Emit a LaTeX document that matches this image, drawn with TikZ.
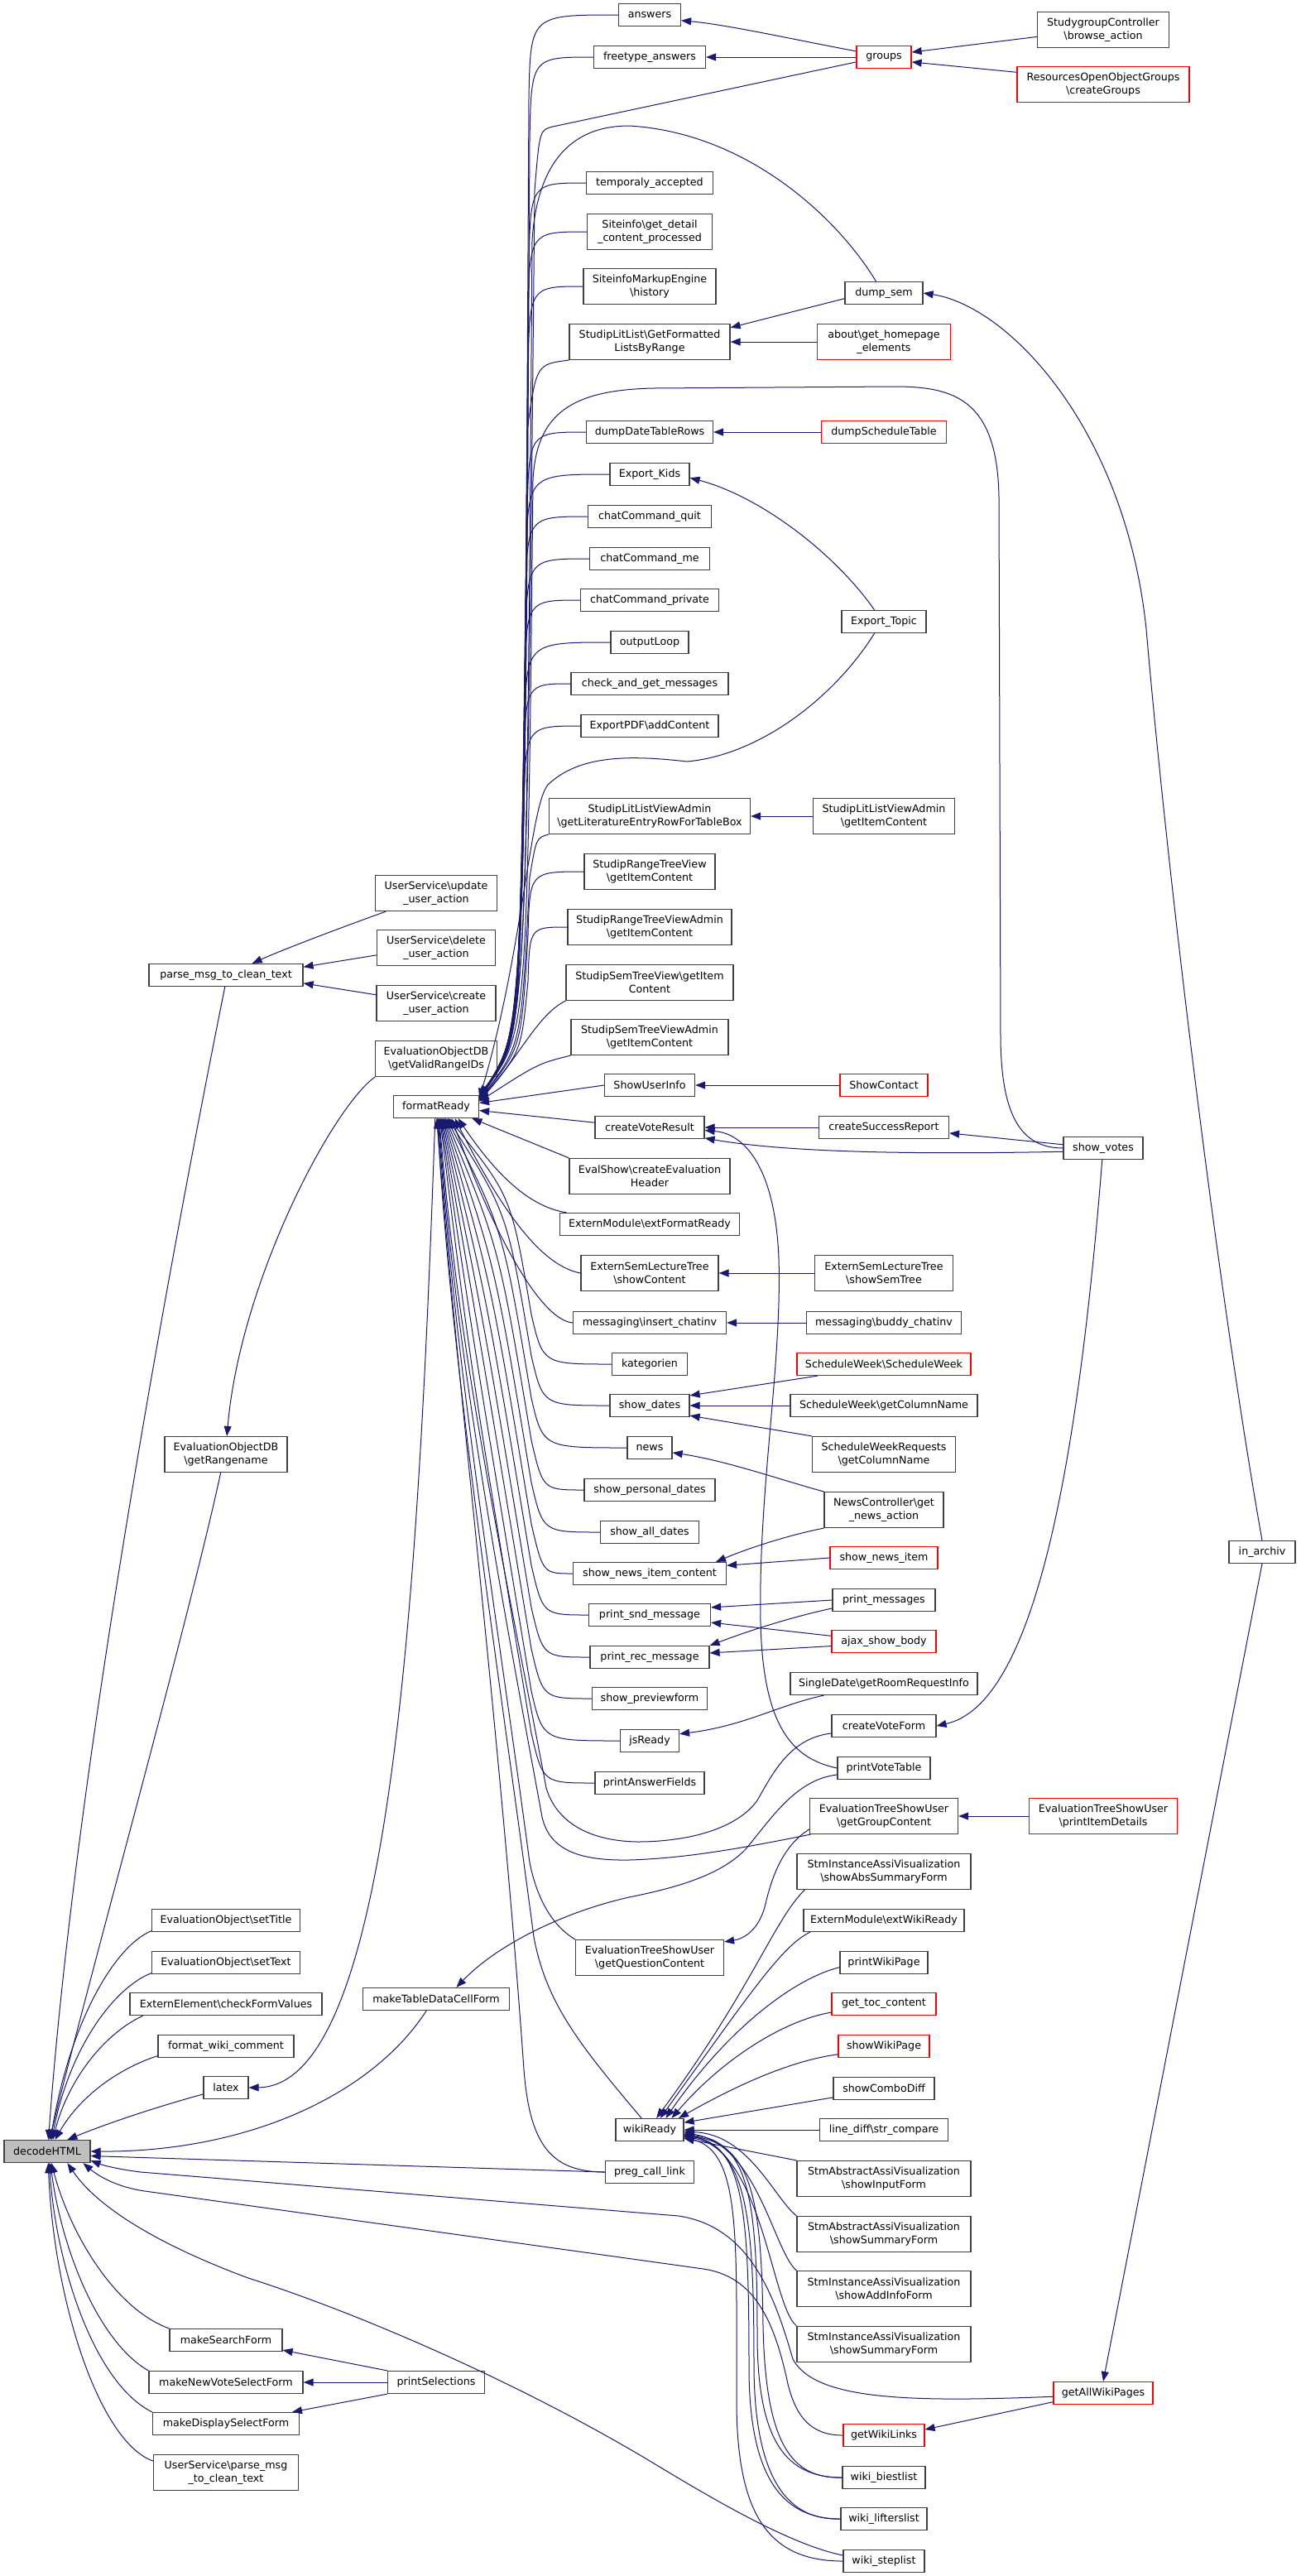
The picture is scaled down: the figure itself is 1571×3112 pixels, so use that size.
\documentclass[tikz,border=0pt]{standalone}
\usepackage{fontspec}
\setmainfont{DejaVu Sans}
\usetikzlibrary{arrows.meta}
\definecolor{mb}{RGB}{25,25,112}
\newcommand\BSL{\textbackslash}
\tikzset{
  nb/.style={draw=black!75, line width=0.9pt, fill=white, inner xsep=2pt, inner ysep=0pt, align=center, minimum height=20.25pt, font=\fontsize{9.5pt}{11.9pt}\selectfont},
  tl/.style={minimum height=32.25pt},
  bw/.style={minimum width=#1*0.75pt},
  rb/.style={draw=red},
  ed/.style={draw=mb, line width=0.75pt, -{Triangle[length=9pt,width=6.75pt]}},
}
\begin{document}
\begin{tikzpicture}[x=0.75pt,y=-0.75pt]
\fill[white] (0,0) rectangle (1571,3112);
\useasboundingbox (0,0) rectangle (1571,3112);
% ---- column A
\node[nb,bw=104,fill=black!25] (dh) at (57,2599) {decodeHTML};
% ---- column B
\node[nb,bw=186] (pm) at (273,1178) {parse\_msg\_to\_clean\_text};
\node[nb,tl,bw=148] (grn) at (273,1757) {EvaluationObjectDB\\\BSL getRangename};
\node[nb,bw=179] (sti) at (273,2320) {EvaluationObject\BSL setTitle};
\node[nb,bw=179] (stx) at (273,2371) {EvaluationObject\BSL setText};
\node[nb,bw=232] (cfv) at (273,2421) {ExternElement\BSL checkFormValues};
\node[nb,bw=164] (fwc) at (273,2472) {format\_wiki\_comment};
\node[nb,bw=54] (ltx) at (273,2522) {latex};
\node[nb,bw=136] (msf) at (273,2827) {makeSearchForm};
\node[nb,bw=186] (mnv) at (273,2878) {makeNewVoteSelectForm};
\node[nb,bw=177] (mds) at (273,2928) {makeDisplaySelectForm};
\node[nb,tl,bw=175] (usp) at (273,2987) {UserService\BSL parse\_msg\\\_to\_clean\_text};
% ---- column C
\node[nb,tl,bw=147] (uup) at (527,1079) {UserService\BSL update\\\_user\_action};
\node[nb,tl,bw=143] (udl) at (527,1145) {UserService\BSL delete\\\_user\_action};
\node[nb,tl,bw=144] (ucr) at (527,1212) {UserService\BSL create\\\_user\_action};
\node[nb,tl,bw=147] (gvr) at (527,1279) {EvaluationObjectDB\\\BSL getValidRangeIDs};
\node[nb,bw=103] (fr) at (527,1337) {formatReady};
\node[nb,bw=177] (mtd) at (527,2415) {makeTableDataCellForm};
\node[nb,bw=117] (ps) at (527,2878) {printSelections};
% ---- column D
\node[nb,bw=75] (ans) at (785,18) {answers};
\node[nb,bw=135] (fta) at (785,69) {freetype\_answers};
\node[nb,bw=153] (tac) at (785,221) {temporaly\_accepted};
\node[nb,tl,bw=151] (sgd) at (785,280) {Siteinfo\BSL get\_detail\\\_content\_processed};
\node[nb,tl,bw=160] (smh) at (785,346) {SiteinfoMarkupEngine\\\BSL history};
\node[nb,tl,bw=194] (slg) at (785,413) {StudipLitList\BSL GetFormatted\\ListsByRange};
\node[nb,bw=153] (ddt) at (785,522) {dumpDateTableRows};
\node[nb,bw=96] (ek) at (785,573) {Export\_Kids};
\node[nb,bw=149] (ccq) at (785,624) {chatCommand\_quit};
\node[nb,bw=145] (ccm) at (785,675) {chatCommand\_me};
\node[nb,bw=167] (ccp) at (785,725) {chatCommand\_private};
\node[nb,bw=94] (ol) at (785,776) {outputLoop};
\node[nb,bw=190] (cgm) at (785,826) {check\_and\_get\_messages};
\node[nb,bw=166] (epa) at (785,877) {ExportPDF\BSL addContent};
\node[nb,tl,bw=243] (sla) at (785,986) {StudipLitListViewAdmin\\\BSL getLiteratureEntryRowForTableBox};
\node[nb,tl,bw=158] (srt) at (785,1053) {StudipRangeTreeView\\\BSL getItemContent};
\node[nb,tl,bw=198] (sra) at (785,1120) {StudipRangeTreeViewAdmin\\\BSL getItemContent};
\node[nb,tl,bw=202] (sst) at (785,1187) {StudipSemTreeView\BSL getItem\\Content};
\node[nb,tl,bw=190] (ssa) at (785,1253) {StudipSemTreeViewAdmin\\\BSL getItemContent};
\node[nb,bw=109] (sui) at (785,1311) {ShowUserInfo};
\node[nb,bw=132] (cvr) at (785,1362) {createVoteResult};
\node[nb,tl,bw=194] (ecs) at (785,1421) {EvalShow\BSL createEvaluation\\Header};
\node[nb,bw=217] (emf) at (785,1479) {ExternModule\BSL extFormatReady};
\node[nb,tl,bw=166] (esc) at (785,1538) {ExternSemLectureTree\\\BSL showContent};
\node[nb,bw=185] (mic) at (785,1598) {messaging\BSL insert\_chatinv};
\node[nb,bw=91] (kat) at (785,1648) {kategorien};
\node[nb,bw=96] (sd) at (785,1698) {show\_dates};
\node[nb,bw=54] (nws) at (785,1749) {news};
\node[nb,bw=158] (spd) at (785,1800) {show\_personal\_dates};
\node[nb,bw=119] (sad) at (785,1851) {show\_all\_dates};
\node[nb,bw=185] (snc) at (785,1901) {show\_news\_item\_content};
\node[nb,bw=147] (psm) at (785,1951) {print\_snd\_message};
\node[nb,bw=144] (prm) at (785,2002) {print\_rec\_message};
\node[nb,bw=139] (spf) at (785,2052) {show\_previewform};
\node[nb,bw=71] (jsr) at (785,2103) {jsReady};
\node[nb,bw=132] (paf) at (785,2154) {printAnswerFields};
\node[nb,tl,bw=179] (gqc) at (785,2365) {EvaluationTreeShowUser\\\BSL getQuestionContent};
\node[nb,bw=82] (wr) at (785,2573) {wikiReady};
\node[nb,bw=107] (pcl) at (785,2624) {preg\_call\_link};
% ---- column E
\node[nb,rb,bw=66] (grp) at (1068,69) {groups};
\node[nb,bw=94] (dsm) at (1068,354) {dump\_sem};
\node[nb,rb,tl,bw=161] (ahe) at (1068,413) {about\BSL get\_homepage\\\_elements};
\node[nb,rb,bw=151] (dst) at (1068,522) {dumpScheduleTable};
\node[nb,bw=102] (et) at (1068,751) {Export\_Topic};
\node[nb,tl,bw=171] (sli) at (1068,986) {StudipLitListViewAdmin\\\BSL getItemContent};
\node[nb,rb,bw=106] (sc) at (1068,1311) {ShowContact};
\node[nb,bw=157] (csr) at (1068,1362) {createSuccessReport};
\node[nb,tl,bw=167] (est) at (1068,1538) {ExternSemLectureTree\\\BSL showSemTree};
\node[nb,bw=187] (mbc) at (1068,1598) {messaging\BSL buddy\_chatinv};
\node[nb,rb,bw=210] (sws) at (1068,1648) {ScheduleWeek\BSL ScheduleWeek};
\node[nb,bw=226] (swc) at (1068,1698) {ScheduleWeek\BSL getColumnName};
\node[nb,tl,bw=173] (swr) at (1068,1757) {ScheduleWeekRequests\\\BSL getColumnName};
\node[nb,tl,bw=144] (ncg) at (1068,1824) {NewsController\BSL get\\\_news\_action};
\node[nb,rb,bw=130] (sni) at (1068,1882) {show\_news\_item};
\node[nb,bw=124] (pms) at (1068,1933) {print\_messages};
\node[nb,rb,bw=126] (asb) at (1068,1983) {ajax\_show\_body};
\node[nb,bw=226] (sdr) at (1068,2034) {SingleDate\BSL getRoomRequestInfo};
\node[nb,bw=126] (cvf) at (1068,2085) {createVoteForm};
\node[nb,bw=112] (pvt) at (1068,2136) {printVoteTable};
\node[nb,tl,bw=179] (ggc) at (1068,2194) {EvaluationTreeShowUser\\\BSL getGroupContent};
\node[nb,tl,bw=210] (sas) at (1068,2261) {StmInstanceAssiVisualization\\\BSL showAbsSummaryForm};
\node[nb,bw=194] (ewr) at (1068,2320) {ExternModule\BSL extWikiReady};
\node[nb,bw=106] (pwp) at (1068,2371) {printWikiPage};
\node[nb,rb,bw=126] (gtc) at (1068,2421) {get\_toc\_content};
\node[nb,rb,bw=110] (swp) at (1068,2472) {showWikiPage};
\node[nb,bw=122] (scd) at (1068,2523) {showComboDiff};
\node[nb,bw=155] (lds) at (1068,2573) {line\_diff\BSL str\_compare};
\node[nb,tl,bw=210] (sif) at (1068,2632) {StmAbstractAssiVisualization\\\BSL showInputForm};
\node[nb,tl,bw=210] (ssf) at (1068,2699) {StmAbstractAssiVisualization\\\BSL showSummaryForm};
\node[nb,tl,bw=210] (sai) at (1068,2765) {StmInstanceAssiVisualization\\\BSL showAddInfoForm};
\node[nb,tl,bw=210] (sis) at (1068,2832) {StmInstanceAssiVisualization\\\BSL showSummaryForm};
\node[nb,rb,bw=98] (gwl) at (1068,2942) {getWikiLinks};
\node[nb,bw=100] (wbl) at (1068,2993) {wiki\_biestlist};
\node[nb,bw=104] (wll) at (1068,3043) {wiki\_lifterslist};
\node[nb,bw=98] (wsl) at (1068,3094) {wiki\_steplist};
% ---- column F
\node[nb,tl,bw=159] (sgc) at (1333,36) {StudygroupController\\\BSL browse\_action};
\node[nb,rb,tl,bw=208] (rog) at (1333,102) {ResourcesOpenObjectGroups\\\BSL createGroups};
\node[nb,bw=96] (sv) at (1333,1387) {show\_votes};
\node[nb,rb,tl,bw=179] (pid) at (1333,2194) {EvaluationTreeShowUser\\\BSL printItemDetails};
\node[nb,rb,bw=120] (gaw) at (1333,2891) {getAllWikiPages};
% ---- column G
\node[nb,bw=80] (ia) at (1525,1875) {in\_archiv};

% ===== edges into decodeHTML
\draw[ed] (pm.-95) .. controls (200,1550) and (90,2150) .. (dh.84);
\draw[ed] (grn.-106) .. controls (230,1950) and (110,2380) .. (dh.79);
\draw[ed] (sti.-172) .. controls (140,2350) and (85,2440) .. (dh.74);
\draw[ed] (stx.-172) .. controls (140,2400) and (85,2470) .. (dh.69);
\draw[ed] (cfv.-172) .. controls (120,2460) and (80,2520) .. (dh.64);
\draw[ed] (fwc.-172) .. controls (140,2500) and (95,2535) .. (dh.56);
\draw[ed] (ltx.-164) .. controls (190,2545) and (130,2565) .. (dh.30);
\draw[ed] (mtd.-130) .. controls (450,2530) and (300,2600) .. (dh.east);
\draw[ed] (pcl.west) -- (dh.-6);
\draw[ed] (gaw.-176) .. controls (1100,2902) and (985,2900) .. (958,2850) .. controls (935,2770) and (905,2690) .. (820,2677) -- (170,2624) .. controls (145,2621) and (125,2616) .. (dh.-12);
\draw[ed] (gwl.west) .. controls (980,2942) and (962,2920) .. (952,2880) .. controls (935,2800) and (910,2750) .. (850,2741) -- (175,2647) .. controls (140,2642) and (118,2628) .. (dh.-18);
\draw[ed] (wsl.172) .. controls (960,3075) and (880,3030) .. (800,2982) .. controls (650,2890) and (450,2800) .. (300,2752) .. controls (200,2715) and (120,2670) .. (dh.-30);
\draw[ed] (msf.north west) .. controls (140,2790) and (85,2700) .. (dh.-70);
\draw[ed] (mnv.north west) .. controls (120,2830) and (75,2720) .. (dh.-75);
\draw[ed] (mds.north west) .. controls (115,2880) and (68,2740) .. (dh.-80);
\draw[ed] (usp.171) .. controls (120,2950) and (65,2780) .. (dh.-85);
% ===== column B / C
\draw[ed] (uup.-160) .. controls (400,1125) and (340,1148) .. (pm.24);
\draw[ed] (udl.187) -- (pm.6);
\draw[ed] (ucr.172) -- (pm.-6);
\draw[ed] (gvr.south west) .. controls (400,1340) and (290,1550) .. (grn.87);
\draw[ed] (fr.-95) .. controls (505,1950) and (470,2520) .. (ltx.east);
\draw[ed] (ps.north west) -- (msf.-10);
\draw[ed] (ps.west) -- (mnv.east);
\draw[ed] (ps.south west) -- (mds.10);
% ===== groups, dump_sem, in_archiv
\draw[ed] (grp.168) .. controls (960,48) and (880,30) .. (ans.-10);
\draw[ed] (grp.west) -- (fta.east);
\draw[ed] (sgc.-174) -- (grp.10);
\draw[ed] (rog.172) -- (grp.-10);
\draw[ed] (grp.-170) -- (668,153) .. controls (652,157) .. (646,230) .. controls (636,1250) .. (fr.15);
\draw[ed] (dsm.124) .. controls (1010,260) and (900,160) .. (760,152) .. controls (700,152) and (650,185) .. (643,290) .. controls (636,1250) .. (fr.15);
\draw[ed] (dsm.188) -- (slg.10);
\draw[ed] (ahe.west) -- (slg.east);
\draw[ed] (ia.north) .. controls (1470,1550) and (1410,1050) .. (1385,760) .. controls (1360,520) and (1220,370) .. (dsm.east);
\draw[ed] (ia.south) -- (gaw.north);
% ===== upper fan into formatReady
\draw[ed] (ans.west) .. controls (641,18) .. (639,118) .. controls (633,1250) .. (fr.14);
\draw[ed] (fta.west) .. controls (642,69) .. (640,169) .. controls (634,1250) .. (fr.14);
\draw[ed] (tac.west) .. controls (641,221) .. (639,321) .. controls (633,1250) .. (fr.13);
\draw[ed] (sgd.west) .. controls (640,280) .. (638,380) .. controls (632,1250) .. (fr.13);
\draw[ed] (smh.west) .. controls (640,346) .. (638,446) .. controls (631,1250) .. (fr.13);
\draw[ed] (slg.south west) .. controls (648,440) .. (637,520) .. controls (630,1250) .. (fr.12);
\draw[ed] (ddt.west) .. controls (639,522) .. (637,622) .. controls (630,1250) .. (fr.12);
\draw[ed] (ek.west) .. controls (638,573) .. (636,673) .. controls (629,1250) .. (fr.12);
\draw[ed] (ccq.west) .. controls (637,624) .. (635,724) .. controls (628,1250) .. (fr.11);
\draw[ed] (ccm.west) .. controls (637,675) .. (635,775) .. controls (628,1250) .. (fr.11);
\draw[ed] (ccp.west) .. controls (636,725) .. (634,825) .. controls (627,1250) .. (fr.11);
\draw[ed] (ol.west) .. controls (636,776) .. (634,876) .. controls (627,1255) .. (fr.10);
\draw[ed] (cgm.west) .. controls (635,826) .. (633,926) .. controls (626,1255) .. (fr.10);
\draw[ed] (epa.west) .. controls (635,877) .. (633,977) .. controls (626,1260) .. (fr.10);
\draw[ed] (sla.south west) .. controls (648,1012) .. (640,1060) .. controls (630,1262) .. (fr.9);
\draw[ed] (srt.west) .. controls (640,1053) .. (638,1130) .. controls (630,1265) .. (fr.9);
\draw[ed] (sra.west) .. controls (640,1120) .. (638,1185) .. controls (630,1270) .. (fr.8);
\draw[ed] (sst.south west) .. controls (650,1225) and (625,1280) .. (fr.8);
\draw[ed] (ssa.south west) .. controls (650,1285) .. (fr.7);
\draw[ed] (sui.west) -- (fr.5);
\draw[ed] (cvr.175) -- (fr.-5);
\draw[ed] (ecs.north west) -- (fr.-18);
\draw[ed] (sv.west) .. controls (1232,1387) and (1210,1345) .. (1209,1255) -- (1207,600) .. controls (1205,480) and (1150,467) .. (1080,467) -- (790,469) .. controls (690,471) and (648,500) .. (644,580) .. controls (637,1250) .. (fr.14);
\draw[ed] (et.-129) .. controls (1010,840) and (920,912) .. (830,920) .. controls (760,912) and (700,912) .. (662,948) .. controls (640,975) and (632,1150) .. (fr.11);
\draw[ed] (et.129) .. controls (1010,670) and (920,600) .. (ek.-5);
% ===== lower fan into formatReady
\draw[ed] (emf.172) .. controls (640,1458) and (600,1420) .. (fr.-28);
\draw[ed] (esc.west) .. controls (660,1530) and (615,1480) .. (fr.-32);
\draw[ed] (mic.west) .. controls (655,1595) and (600,1500) .. (fr.-37);
\draw[ed] (kat.west) .. controls (656,1648) .. (642,1588) .. controls (618,1446) .. (fr.-42);
\draw[ed] (sd.west) .. controls (656,1698) .. (642,1638) .. controls (613,1466) .. (fr.-45);
\draw[ed] (nws.west) .. controls (656,1749) .. (642,1689) .. controls (608,1486) .. (fr.-48);
\draw[ed] (spd.west) .. controls (656,1800) .. (642,1740) .. controls (603,1507) .. (fr.-51);
\draw[ed] (sad.west) .. controls (656,1851) .. (642,1791) .. controls (598,1527) .. (fr.-54);
\draw[ed] (snc.west) .. controls (656,1901) .. (642,1841) .. controls (593,1547) .. (fr.-57);
\draw[ed] (psm.west) .. controls (656,1951) .. (642,1891) .. controls (588,1567) .. (fr.-60);
\draw[ed] (prm.west) .. controls (656,2002) .. (642,1942) .. controls (583,1587) .. (fr.-63);
\draw[ed] (spf.west) .. controls (656,2052) .. (642,1992) .. controls (578,1607) .. (fr.-66);
\draw[ed] (jsr.west) .. controls (656,2103) .. (642,2043) .. controls (573,1628) .. (fr.-69);
\draw[ed] (paf.west) .. controls (656,2154) .. (642,2094) .. controls (568,1648) .. (fr.-72);
\draw[ed] (cvf.-172) .. controls (955,2100) and (935,2140) .. (915,2175) .. controls (890,2210) and (830,2225) .. (770,2225) .. controls (710,2224) and (672,2200) .. (660,2160) .. controls (615,1920) and (555,1650) .. (fr.-75);
\draw[ed] (ggc.-166) .. controls (900,2232) and (830,2245) .. (760,2247) .. controls (700,2248) and (664,2235) .. (655,2195) .. controls (610,1950) and (552,1650) .. (fr.-78);
\draw[ed] (gqc.north west) .. controls (665,2325) and (648,2290) .. (640,2250) .. controls (600,1950) and (550,1650) .. (fr.-81);
\draw[ed] (wr.125) .. controls (700,2470) and (660,2420) .. (645,2340) .. controls (600,2000) and (545,1650) .. (fr.-84);
\draw[ed] (pcl.west) .. controls (665,2624) and (640,2590) .. (633,2500) .. controls (605,2100) and (550,1650) .. (fr.-87);
% ===== column E into column D
\draw[ed] (dst.west) -- (ddt.east);
\draw[ed] (sli.west) -- (sla.east);
\draw[ed] (sc.west) -- (sui.east);
\draw[ed] (csr.west) -- (cvr.east);
\draw[ed] (est.west) -- (esc.east);
\draw[ed] (mbc.west) -- (mic.east);
\draw[ed] (sws.-170) -- (sd.14);
\draw[ed] (swc.west) -- (sd.east);
\draw[ed] (swr.north west) -- (sd.-14);
\draw[ed] (ncg.north west) .. controls (950,1790) and (880,1765) .. (nws.-12);
\draw[ed] (ncg.south west) .. controls (950,1855) and (900,1872) .. (snc.10);
\draw[ed] (sni.west) -- (snc.6);
\draw[ed] (pms.west) -- (psm.7);
\draw[ed] (pms.189) .. controls (950,1955) and (900,1972) .. (prm.north east);
\draw[ed] (asb.174) -- (psm.-7);
\draw[ed] (asb.185) -- (prm.4);
\draw[ed] (sdr.-169) .. controls (940,2060) and (900,2085) .. (jsr.13);
\draw[ed] (sv.175) -- (csr.-5);
\draw[ed] (sv.185) .. controls (1100,1395) and (950,1392) .. (cvr.-11);
\draw[ed] (sv.-95) .. controls (1300,1800) and (1245,2060) .. (cvf.east);
\draw[ed] (pvt.west) .. controls (960,2125) and (922,2090) .. (919,1960) .. controls (916,1800) and (945,1650) .. (941,1520) .. controls (937,1420) and (905,1370) .. (cvr.-3);
\draw[ed] (pvt.188) .. controls (960,2150) and (930,2200) .. (900,2235) .. controls (870,2265) and (820,2280) .. (760,2292) .. controls (680,2310) and (600,2350) .. (mtd.30);
\draw[ed] (pid.west) -- (ggc.east);
\draw[ed] (ggc.-170) .. controls (945,2230) and (932,2270) .. (925,2300) .. controls (918,2330) and (900,2342) .. (gqc.12);
% ===== into wikiReady
\draw[ed] (sas.-167) .. controls (935,2320) and (910,2400) .. (wr.60);
\draw[ed] (ewr.-171) .. controls (945,2350) and (905,2410) .. (wr.48);
\draw[ed] (pwp.-174) .. controls (960,2390) and (880,2450) .. (wr.36);
\draw[ed] (gtc.-171) .. controls (950,2440) and (875,2485) .. (wr.28);
\draw[ed] (swp.-170) .. controls (950,2490) and (880,2525) .. (wr.22);
\draw[ed] (scd.-170) -- (wr.12);
\draw[ed] (lds.west) -- (wr.east);
\draw[ed] (sif.north west) -- (wr.-14);
\draw[ed] (ssf.north west) .. controls (935,2655) and (905,2578) .. (wr.-3);
\draw[ed] (sai.north west) .. controls (935,2720) and (915,2590) .. (wr.-5);
\draw[ed] (sis.north west) .. controls (932,2785) and (922,2600) .. (wr.-7);
\draw[ed] (wbl.west) .. controls (950,2993) and (915,2950) .. (915,2820) .. controls (915,2660) and (905,2585) .. (wr.-8);
\draw[ed] (wbl.west) .. controls (955,2995) and (925,2950) .. (922,2810) .. controls (920,2660) and (910,2590) .. (wr.-9);
\draw[ed] (wll.west) .. controls (950,3043) and (905,3000) .. (905,2860) .. controls (905,2680) and (900,2590) .. (wr.-10);
\draw[ed] (wll.west) .. controls (955,3045) and (912,3000) .. (911,2860) .. controls (911,2690) and (905,2595) .. (wr.-11);
\draw[ed] (wsl.west) .. controls (930,3094) and (890,3040) .. (890,2900) .. controls (890,2700) and (895,2600) .. (wr.-12);
\draw[ed] (gaw.-170) -- (gwl.8);
\end{tikzpicture}
\end{document}
